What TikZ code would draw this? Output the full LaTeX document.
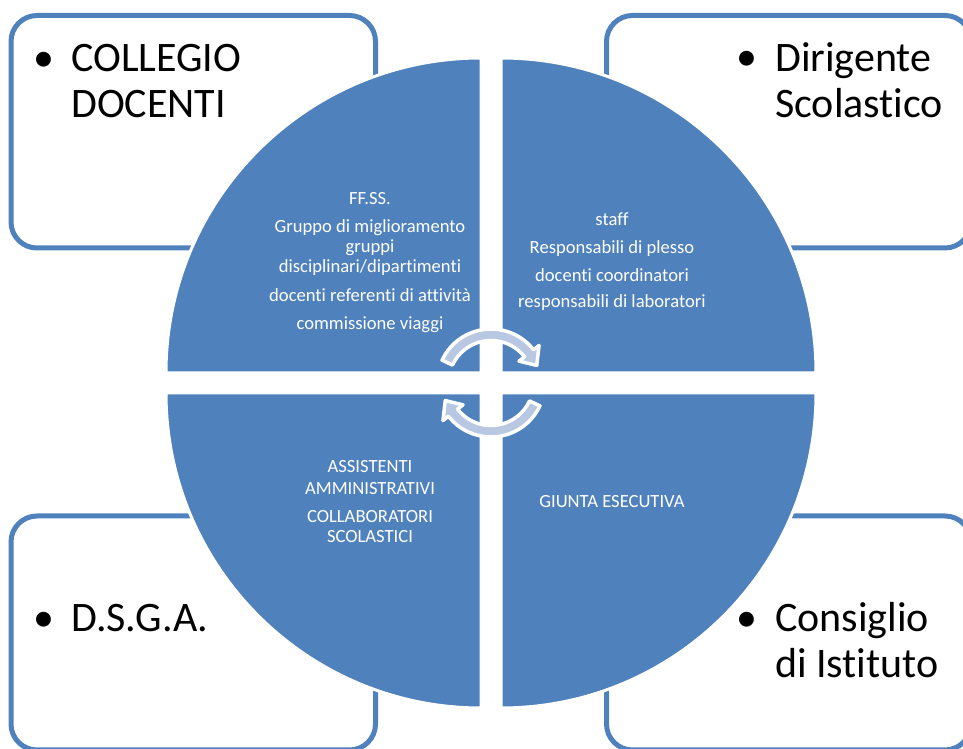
\documentclass[tikz,border=0pt]{standalone}
\usepackage{fontspec}
\setmainfont{Carlito}[RawFeature={-liga;-clig;-dlig;-calt}]
\usepackage{tikz}

\definecolor{quadblue}{HTML}{4F81BD}
\definecolor{arrowfill}{HTML}{B9C8E2}

\begin{document}
\begin{tikzpicture}[x=1pt,y=1pt,
    outerbox/.style={draw=quadblue,line width=5pt,rounded corners=26pt},
    quad/.style={fill=quadblue,draw=white,line width=3pt},
    cycarrow/.style={fill=arrowfill,draw=white,line width=3.5pt,line join=round},
    bigtext/.style={font=\fontsize{42}{46}\selectfont,align=left,inner sep=0pt},
    bullet/.style={font=\fontsize{42}{46}\selectfont,inner sep=0pt},
    smalltext/.style={font=\fontsize{18.6}{20}\selectfont,text=white,align=center,inner sep=0pt}]
  \useasboundingbox (0,0) rectangle (963,749);
  \clip (0,0) rectangle (963,749);
  % corner boxes
  \draw[outerbox] (11,501) rectangle (375.5,733.5);
  \draw[outerbox] (606.5,501) rectangle (971,733.5);
  \draw[outerbox] (11,-1) rectangle (375.5,233);
  \draw[outerbox] (606.5,-1) rectangle (971,233);
  % the four quarters
  \draw[quad] (481,376) -- ++(-315,0) arc[start angle=180,end angle=90,radius=315] -- cycle;
  \draw[quad] (501,376) -- ++(0,315) arc[start angle=90,end angle=0,radius=315] -- cycle;
  \draw[quad] (481,356) -- ++(0,-315) arc[start angle=270,end angle=180,radius=315] -- cycle;
  \draw[quad] (501,356) -- ++(315,0) arc[start angle=0,end angle=-90,radius=315] -- cycle;
  % circular arrows
  \coordinate (mid) at (491,366);
  \begin{scope}[shift={(mid)}]
    \draw[cycarrow] (155:54) arc[start angle=155,end angle=38,radius=54]
      -- (38:61) -- (21:49) -- (38:35.5) -- (38:42.5)
      arc[start angle=38,end angle=155,radius=42.5] -- cycle;
    \draw[cycarrow,rotate=180] (155:54) arc[start angle=155,end angle=38,radius=54]
      -- (38:61) -- (21:49) -- (38:35.5) -- (38:42.5)
      arc[start angle=38,end angle=155,radius=42.5] -- cycle;
  \end{scope}
  % box titles (base = last line)
  \node[bullet,anchor=base] (b1) at (44,677) {•};
  \node[bigtext,anchor=base west] (collegio) at (71,631) {COLLEGIO\\DOCENTI};
  \node[bullet,anchor=base] (b2) at (747,678) {•};
  \node[bigtext,anchor=base west] (dirigente) at (775,631) {Dirigente\\Scolastico};
  \node[bullet,anchor=base] (b3) at (44,117) {•};
  \node[bigtext,anchor=base west] (dsga) at (71,117) {D.S.G.A.};
  \node[bullet,anchor=base] (b4) at (747,117) {•};
  \node[bigtext,anchor=base west] (consiglio) at (775,71) {Consiglio\\di Istituto};
  % texts in the quarters
  \node[smalltext,anchor=base] (ffss) at (370,419) {FF.SS.\\[8pt]
    Gruppo di miglioramento\\gruppi\\disciplinari/dipartimenti\\[9pt]
    docenti referenti di attività\\[8pt]commissione viaggi};
  \node[smalltext,anchor=base] (staff) at (612,441) {staff\\[8pt]
    Responsabili di plesso\\[8pt]docenti coordinatori\\[6pt]
    responsabili di laboratori};
  \node[smalltext,anchor=base] (assist) at (370,206) {ASSISTENTI\\[2pt]
    AMMINISTRATIVI\\[8pt]COLLABORATORI\\SCOLASTICI};
  \node[smalltext,anchor=base] (giunta) at (612,241) {GIUNTA ESECUTIVA};
\end{tikzpicture}
\end{document}
